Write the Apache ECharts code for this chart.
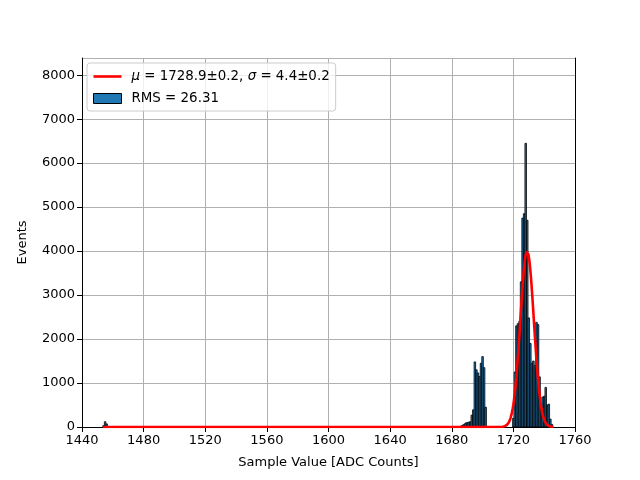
<!DOCTYPE html>
<html>
<head>
<meta charset="utf-8">
<script src="https://cdn.jsdelivr.net/npm/echarts@6/dist/echarts.min.js"></script>
<style>
  html, body { margin: 0; padding: 0; background: #fff; }
  #chart { width: 640px; height: 480px; }
</style>
</head>
<body>
<div id="chart"></div>
<script>
// histogram bins (bin centers, width 1 ADC count) and counts
const binCenters = [
    1454, 1455, 1456,
    1686, 1687, 1688, 1689, 1690, 1691, 1692, 1693, 1694, 1695, 1696, 1697, 1698, 1699, 1700, 1701, 1702,
    1720, 1721, 1722, 1723, 1724, 1725, 1726, 1727, 1728, 1729, 1730, 1731, 1732,
    1733, 1734, 1735, 1736, 1737, 1738, 1739, 1740, 1741, 1742, 1743, 1744, 1745
];
const binCounts = [
    30, 120, 70,
    20, 40, 60, 90, 100, 110, 120, 270, 390, 1480, 1300, 1230, 1150, 1450, 1600, 1350, 450,
    200, 1250, 2300, 2350, 2400, 3300, 4750, 4850, 6450, 4700, 2480, 1900, 1450,
    1500, 1400, 2380, 2330, 1140, 450, 680, 700, 900, 500, 520, 180, 60
];

// gaussian fit parameters
const fitMu = 1728.9;
const fitSigma = 4.4;
const fitAmp = 4000;
const fitRange = [1453.5, 1746];

const xTicks = [1440, 1760, 40];
const yTicks = [0, 8000, 1000];

const fitLabel = '{i|μ} = 1728.9±0.2, {i|σ} = 4.4±0.2';
const histLabel = 'RMS = 26.31';

const fitPoints = [];
for (let x = fitRange[0]; x <= fitRange[1]; x += 0.25) {
    const z = (x - fitMu) / fitSigma;
    fitPoints.push([x, fitAmp * Math.exp(-0.5 * z * z)]);
}

const histData = binCenters.map((c, i) => [c, binCounts[i]]);

const chart = echarts.init(document.getElementById('chart'));
const font = 'DejaVu Sans';
const plain = v => String(v);

const frameAxis = {
    axisLine: { show: true, lineStyle: { color: '#000', width: 1 } },
    axisTick: { show: false },
    axisLabel: { show: false },
    splitLine: { show: false }
};

chart.setOption({
    animation: false,
    textStyle: { fontFamily: font },
    grid: { left: 82, right: 65, top: 58, bottom: 53 },
    legend: {
        left: 87, top: 63,
        orient: 'vertical',
        itemGap: 9,
        itemWidth: 28, itemHeight: 10,
        padding: [7, 6, 6, 6],
        backgroundColor: 'rgba(255,255,255,0.8)',
        borderColor: '#cccccc', borderWidth: 1, borderRadius: 3,
        textStyle: {
            fontSize: 13.4, color: '#000', fontFamily: font, padding: [0, 0, 0, 5],
            rich: { i: { fontStyle: 'italic', fontSize: 13.4, fontFamily: font } }
        },
        data: [
            { name: fitLabel, icon: 'path://M0,0 L30,0 L30,2.8 L0,2.8 Z', itemStyle: { color: '#ff0000' } },
            { name: histLabel, icon: 'rect', itemStyle: { color: '#1f77b4', borderColor: '#000', borderWidth: 1 } }
        ]
    },
    xAxis: [
        {
            type: 'value',
            min: xTicks[0], max: xTicks[1], interval: xTicks[2],
            name: 'Sample Value [ADC Counts]',
            nameLocation: 'middle', nameGap: 29,
            nameTextStyle: { fontSize: 13, color: '#000' },
            axisLine: { show: true, lineStyle: { color: '#000', width: 1 } },
            axisTick: { show: true, length: 5, lineStyle: { color: '#000' } },
            axisLabel: { fontSize: 13, color: '#000', margin: 7, formatter: plain },
            splitLine: { show: true, lineStyle: { color: '#b0b0b0', width: 1 } }
        },
        Object.assign({ type: 'value', position: 'top', min: xTicks[0], max: xTicks[1] }, frameAxis)
    ],
    yAxis: [
        {
            type: 'value',
            min: yTicks[0], max: 8390, interval: yTicks[2],
            name: 'Events',
            nameLocation: 'middle', nameGap: 53,
            nameTextStyle: { fontSize: 13, color: '#000' },
            axisLine: { show: true, lineStyle: { color: '#000', width: 1 } },
            axisTick: { show: true, length: 5, lineStyle: { color: '#000' } },
            axisLabel: { fontSize: 13, color: '#000', margin: 7, showMaxLabel: false, formatter: plain },
            splitLine: { show: true, lineStyle: { color: '#b0b0b0', width: 1 } }
        },
        Object.assign({ type: 'value', position: 'right', min: yTicks[0], max: 8390 }, frameAxis)
    ],
    series: [
        {
            name: histLabel,
            type: 'custom',
            data: histData,
            encode: { x: 0, y: 1 },
            renderItem: (params, api) => {
                const c = api.value(0);
                const v = api.value(1);
                const p0 = api.coord([c - 0.5, 0]);
                const p1 = api.coord([c + 0.5, v]);
                return {
                    type: 'rect',
                    shape: { x: p0[0], y: p1[1], width: p1[0] - p0[0], height: p0[1] - p1[1] },
                    style: { fill: '#1f77b4', stroke: '#000', lineWidth: 0.8 }
                };
            },
            z: 2
        },
        {
            name: fitLabel,
            type: 'line',
            data: fitPoints,
            showSymbol: false,
            lineStyle: { color: '#ff0000', width: 2.6 },
            itemStyle: { color: '#ff0000' },
            z: 3
        }
    ]
});
</script>
</body>
</html>
